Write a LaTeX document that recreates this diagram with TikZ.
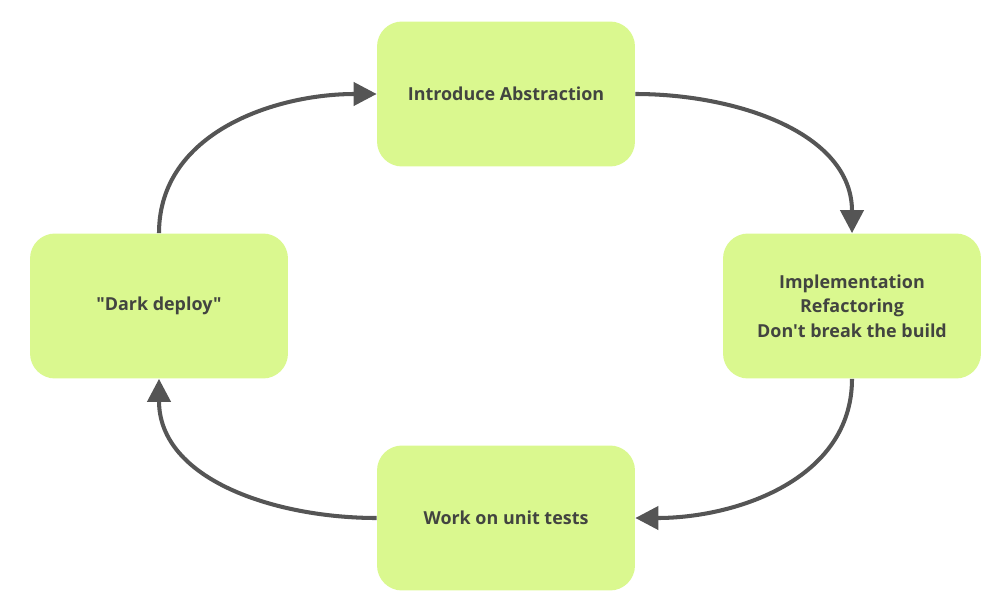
\documentclass[tikz,border=0pt]{standalone}
\usepackage{fontspec}
\setmainfont{Open Sans}[Ligatures=TeXOff]
\usetikzlibrary{arrows.meta}
\definecolor{lime}{RGB}{218,248,143}
\definecolor{ink}{RGB}{66,68,64}
\definecolor{wire}{RGB}{85,85,85}

\begin{document}
\begin{tikzpicture}[x=0.02cm,y=-0.02cm,
  stagebox/.style={rectangle,rounded corners=0.5cm,fill=lime,text=ink,
    minimum width=5.16cm,minimum height=2.9cm,align=center,inner sep=0pt,
    font=\fontsize{10.2pt}{13.9pt}\selectfont\bfseries},
  flow/.style={draw=wire,line width=2.3pt,-{Triangle[length=0.46cm,width=0.46cm]}}]
\useasboundingbox (0,0) rectangle (1000,615);
\node[stagebox](intro) at (506,94){Introduce Abstraction};
\node[stagebox](impl) at (852,306){Implementation\\Refactoring\\Don't break the build};
\node[stagebox](tests) at (506,518){Work on unit tests};
\node[stagebox](dark) at (159,306){"Dark deploy"};
% round the cycle
\draw[flow] (dark.north) to[out=90,in=180] (intro.west);
\draw[flow] (intro.east) to[out=0,in=90] (impl.north);
\draw[flow] (impl.south) to[out=-90,in=0] (tests.east);
\draw[flow] (tests.west) to[out=180,in=-90] (dark.south);
\end{tikzpicture}
\end{document}
